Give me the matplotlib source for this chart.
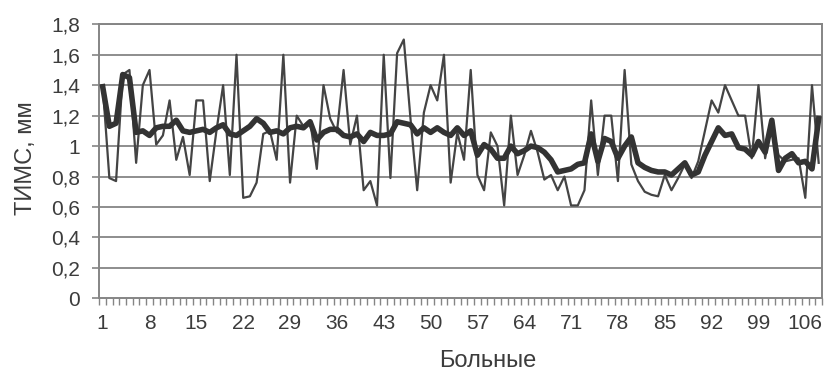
import numpy as np
import matplotlib
matplotlib.use("Agg")
import matplotlib.pyplot as plt
from matplotlib.ticker import FixedLocator, FuncFormatter

plt.rcParams["font.family"] = ["Liberation Sans", "DejaVu Sans"]

# ТИМС по каждому больному (тонкая линия)
tims_thin = [
    1.40, 0.79, 0.77, 1.47, 1.50, 0.89, 1.40, 1.50, 1.01, 1.07,
    1.30, 0.91, 1.06, 0.81, 1.30, 1.30, 0.77, 1.10, 1.40, 0.81,
    1.60, 0.66, 0.67, 0.76, 1.08, 1.10, 0.91, 1.60, 0.76, 1.20,
    1.13, 1.17, 0.85, 1.40, 1.18, 1.09, 1.50, 1.01, 1.20, 0.71,
    0.77, 0.61, 1.60, 0.79, 1.61, 1.70, 1.18, 0.71, 1.22, 1.40,
    1.30, 1.60, 0.76, 1.09, 0.91, 1.50, 0.81, 0.71, 1.09, 1.00,
    0.61, 1.20, 0.81, 0.94, 1.10, 0.96, 0.78, 0.81, 0.71, 0.80,
    0.61, 0.61, 0.71, 1.30, 0.81, 1.20, 1.20, 0.77, 1.50, 0.88,
    0.77, 0.70, 0.68, 0.67, 0.81, 0.71, 0.79, 0.88, 0.79, 0.90,
    1.10, 1.30, 1.22, 1.40, 1.30, 1.20, 1.20, 0.92, 1.40, 0.92,
    1.16, 0.94, 0.90, 0.91, 0.92, 0.66, 1.40, 0.89,
]

# толстая линия
tims_thick = [
    1.39, 1.13, 1.15, 1.47, 1.45, 1.09, 1.10, 1.07, 1.12, 1.13,
    1.13, 1.17, 1.10, 1.09, 1.10, 1.11, 1.09, 1.12, 1.14, 1.08,
    1.07, 1.10, 1.13, 1.18, 1.15, 1.09, 1.10, 1.08, 1.12, 1.13,
    1.12, 1.16, 1.04, 1.09, 1.11, 1.11, 1.07, 1.06, 1.08, 1.03,
    1.09, 1.07, 1.07, 1.08, 1.16, 1.15, 1.14, 1.08, 1.12, 1.09,
    1.12, 1.09, 1.07, 1.12, 1.07, 1.10, 0.94, 1.01, 0.98, 0.92,
    0.92, 1.00, 0.95, 0.97, 1.00, 0.99, 0.96, 0.91, 0.83, 0.84,
    0.85, 0.88, 0.89, 1.08, 0.90, 1.05, 1.03, 0.92, 1.00, 1.06,
    0.89, 0.86, 0.84, 0.83, 0.83, 0.81, 0.85, 0.89, 0.81, 0.83,
    0.94, 1.03, 1.12, 1.07, 1.08, 0.99, 0.98, 0.94, 1.03, 0.96,
    1.17, 0.84, 0.92, 0.95, 0.89, 0.90, 0.85, 1.18,
]

patients = np.arange(1, len(tims_thin) + 1)
x_labels = list(range(1, 107, 7))
y_ticks = [0, 0.2, 0.4, 0.6, 0.8, 1.0, 1.2, 1.4, 1.6, 1.8]

text_col = "#3c3c3c"
axis_col = "#858585"

fig = plt.figure(figsize=(8.25, 3.74), dpi=100)
ax = fig.add_axes([0.1204, 0.2024, 0.8760, 0.7326])

for y in y_ticks[1:]:
    ax.axhline(y, color=axis_col, lw=1.3, zorder=1)

ax.plot(patients, tims_thin, color="#444444", lw=1.6, zorder=3)
ax.plot(patients, tims_thick, color="#333333", lw=4.0, zorder=4,
        solid_joinstyle="round")

ax.set_xlim(0.5, len(patients) + 0.5)
ax.set_ylim(0, 1.8)

ax.xaxis.set_major_locator(FixedLocator(x_labels))
ax.xaxis.set_minor_locator(FixedLocator(np.arange(0.5, len(patients) + 1, 1)))
ax.tick_params(axis="x", which="major", length=0, pad=11.5,
               labelsize=15, labelcolor=text_col)
ax.tick_params(axis="x", which="minor", length=5, width=1, color=axis_col,
               direction="out")

ax.set_yticks(y_ticks)
ax.yaxis.set_major_formatter(FuncFormatter(lambda v, p: f"{v:g}".replace(".", ",")))
ax.tick_params(axis="y", length=5, width=1.2, color=axis_col, pad=9,
               labelsize=15, labelcolor=text_col)

for s in ax.spines.values():
    s.set_color(axis_col)
    s.set_linewidth(1.4)

ax.set_xlabel("Больные", fontsize=17, color=text_col)
ax.xaxis.set_label_coords(0.537, -0.19)
ax.set_ylabel("ТИМС, мм", fontsize=17, color=text_col)
ax.yaxis.set_label_coords(-0.086, 0.51)

fig.savefig("out.png", dpi=100)
